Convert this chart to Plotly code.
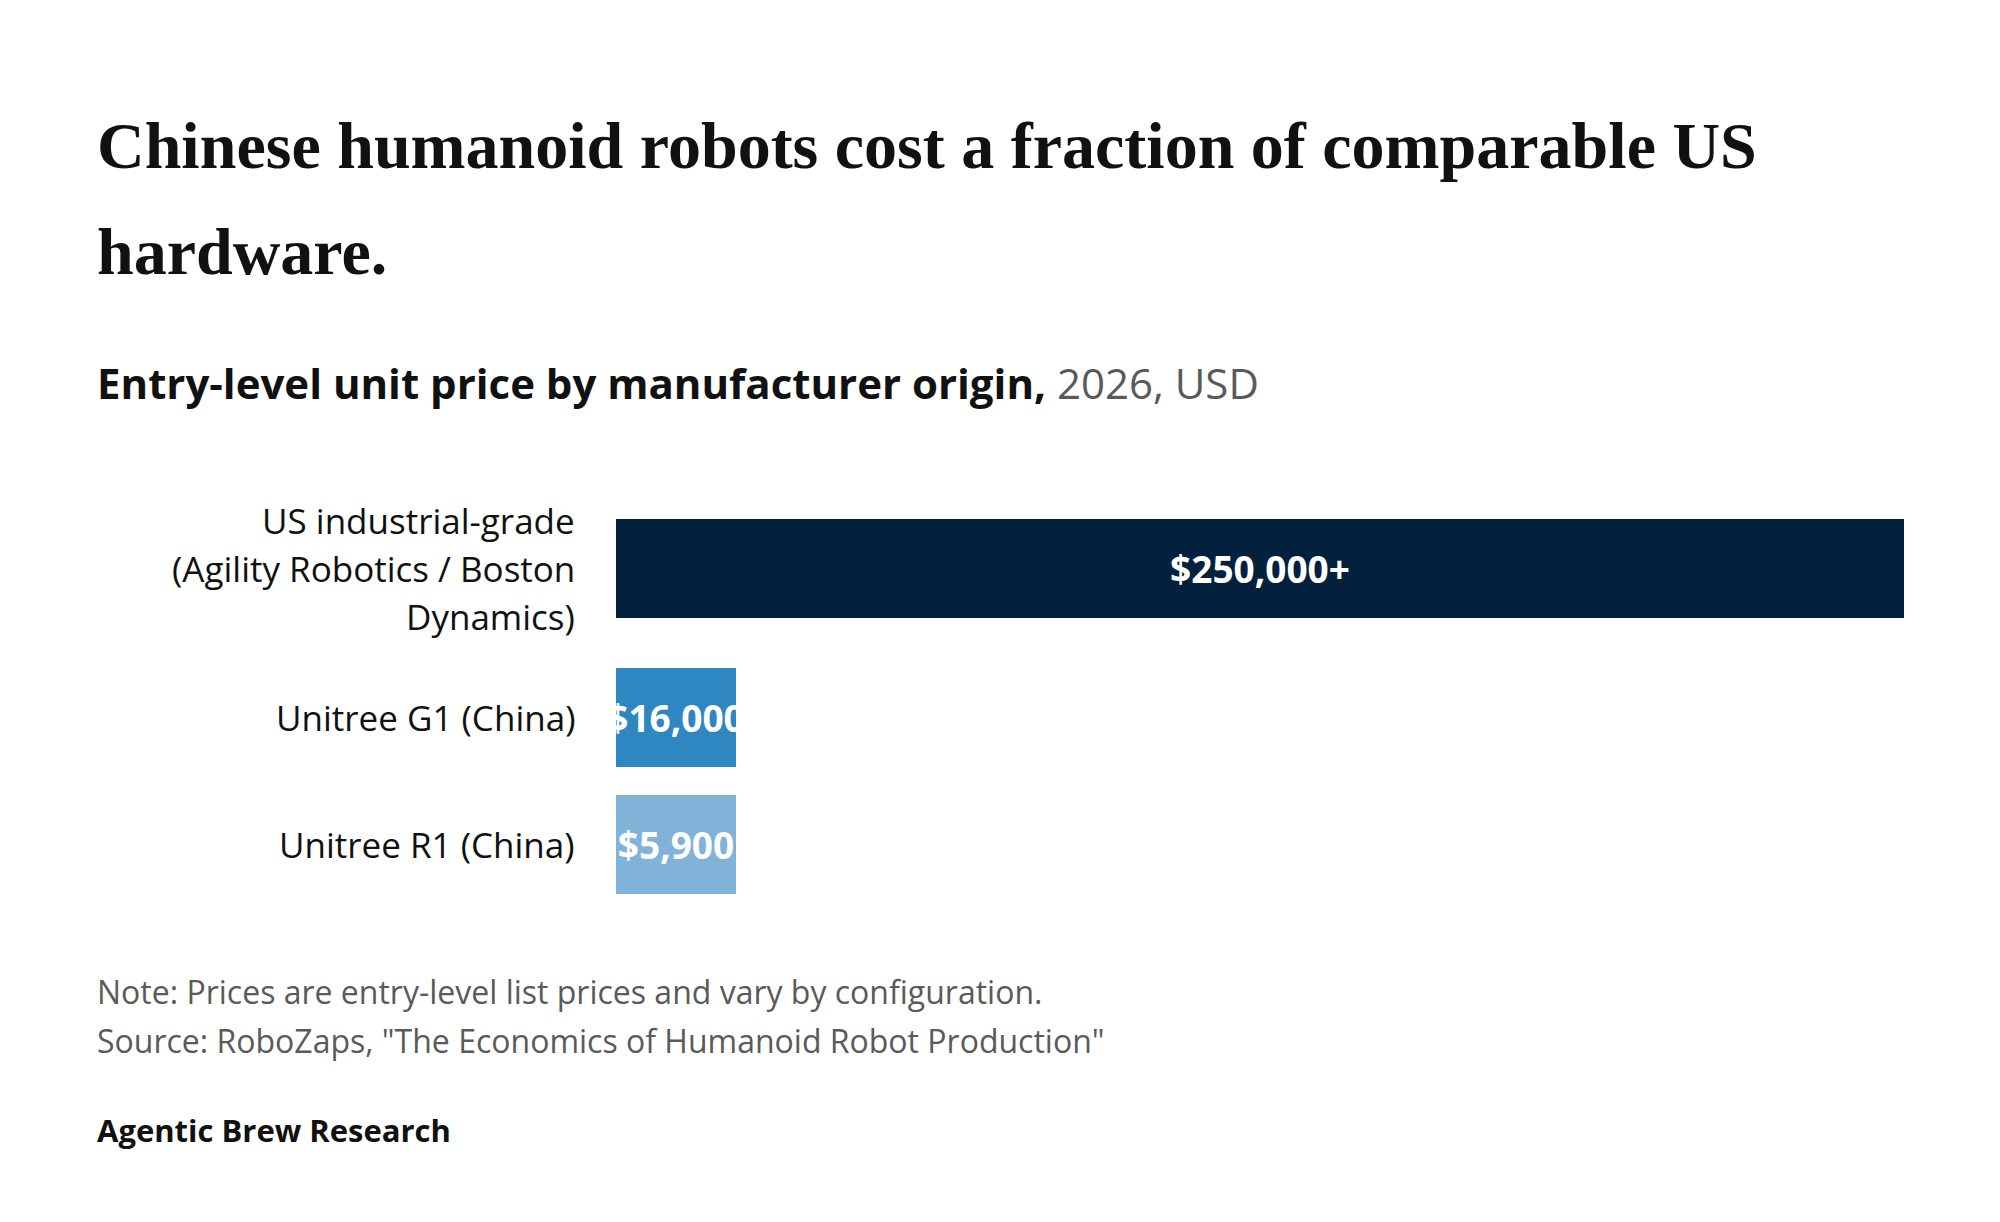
import plotly.graph_objects as go

# ---------------- data ----------------
categories = [
    "US industrial-grade<br>(Agility Robotics / Boston<br>Dynamics)",
    "Unitree G1 (China)",
    "Unitree R1 (China)",
]
prices = [250000, 16000, 5900]
price_labels = ["$250,000+", "$16,000", "$5,900"]
bar_colors = ["#03203c", "#2e87c1", "#80b3d7"]

title_lines = ["Chinese humanoid robots cost a fraction of comparable US", "hardware."]
subtitle_bold = "Entry-level unit price by manufacturer origin,"
subtitle_rest = " 2026, USD"
note_text = "Note: Prices are entry-level list prices and vary by configuration."
source_text = "Source: RoboZaps, \"The Economics of Humanoid Robot Production\""
brand_text = "Agentic Brew Research"

# ---------------- layout constants ----------------
W, H = 2000, 1222
M_L, M_R, M_T, M_B = 616, 96, 482, 314
PLOT_W = W - M_L - M_R
PLOT_H = H - M_T - M_B
BAR_H = 99          # bar thickness (px == y units)
LINE_H = 48         # label line height
GAP = 28            # gap between rows
MIN_VISIBLE_SHARE = 0.093  # bars are drawn at least this share of the axis so labels fit

SANS = "Open Sans"
SERIF = "Liberation Serif"

x_max = max(prices)
display_vals = [max(v, MIN_VISIBLE_SHARE * x_max) for v in prices]

# row positions derived from label line counts
line_counts = [len(c.split("<br>")) for c in categories]
row_heights = [max(BAR_H, n * LINE_H) for n in line_counts]
centers = []
cursor = GAP / 2
for rh in row_heights:
    centers.append(cursor + rh / 2)
    cursor += rh + GAP
y_total = cursor - GAP / 2


def px_x(px):
    return (px - M_L) / PLOT_W


def px_y(py):
    return (H - M_B - py) / PLOT_H


fig = go.Figure(
    go.Bar(
        x=display_vals,
        y=centers,
        orientation="h",
        width=BAR_H,
        marker=dict(color=bar_colors, line=dict(width=0)),
        text=price_labels,
        textposition="inside",
        insidetextanchor="middle",
        constraintext="none",
        textfont=dict(family=SANS, size=37, color="white", weight="bold"),
        hoverinfo="skip",
    )
)

annotations = []
# category labels (one annotation per line for exact line spacing)
for cat, c in zip(categories, centers):
    lines = cat.split("<br>")
    n = len(lines)
    for i, ln in enumerate(lines):
        annotations.append(dict(
            x=0, xref="x", y=c + (i - (n - 1) / 2) * LINE_H, yref="y",
            text=ln, showarrow=False, xanchor="right", yanchor="middle",
            xshift=-39, font=dict(family=SANS, size=35, color="#111111"),
        ))

# title
title_centers = [145, 251]
for ln, cy in zip(title_lines, title_centers):
    annotations.append(dict(
        x=px_x(95), xref="paper", y=px_y(cy), yref="paper",
        text=ln, showarrow=False, xanchor="left", yanchor="middle",
        font=dict(family=SERIF, size=66, color="#111111", weight="bold"),
    ))

annotations.append(dict(
    x=px_x(95), xref="paper", y=px_y(382), yref="paper",
    text=f"<b>{subtitle_bold}</b><span style='color:#5a5a5a'>{subtitle_rest}</span>",
    showarrow=False, xanchor="left", yanchor="middle",
    font=dict(family=SANS, size=42, color="#111111"),
))

for txt, cy in [(note_text, 991), (source_text, 1040)]:
    annotations.append(dict(
        x=px_x(95), xref="paper", y=px_y(cy), yref="paper",
        text=txt, showarrow=False, xanchor="left", yanchor="middle",
        font=dict(family=SANS, size=32, color="#5a5a5a"),
    ))

annotations.append(dict(
    x=px_x(95), xref="paper", y=px_y(1130), yref="paper",
    text=f"<b>{brand_text}</b>", showarrow=False, xanchor="left", yanchor="middle",
    font=dict(family=SANS, size=31, color="#111111"),
))

fig.update_layout(
    width=W, height=H,
    margin=dict(l=M_L, r=M_R, t=M_T, b=M_B, pad=0),
    paper_bgcolor="white", plot_bgcolor="white",
    showlegend=False,
    xaxis=dict(range=[0, x_max], visible=False, fixedrange=True),
    yaxis=dict(range=[y_total, 0], visible=False, fixedrange=True),
    annotations=annotations,
    bargap=0,
)

fig.write_html("out.html", config={"displayModeBar": False})
